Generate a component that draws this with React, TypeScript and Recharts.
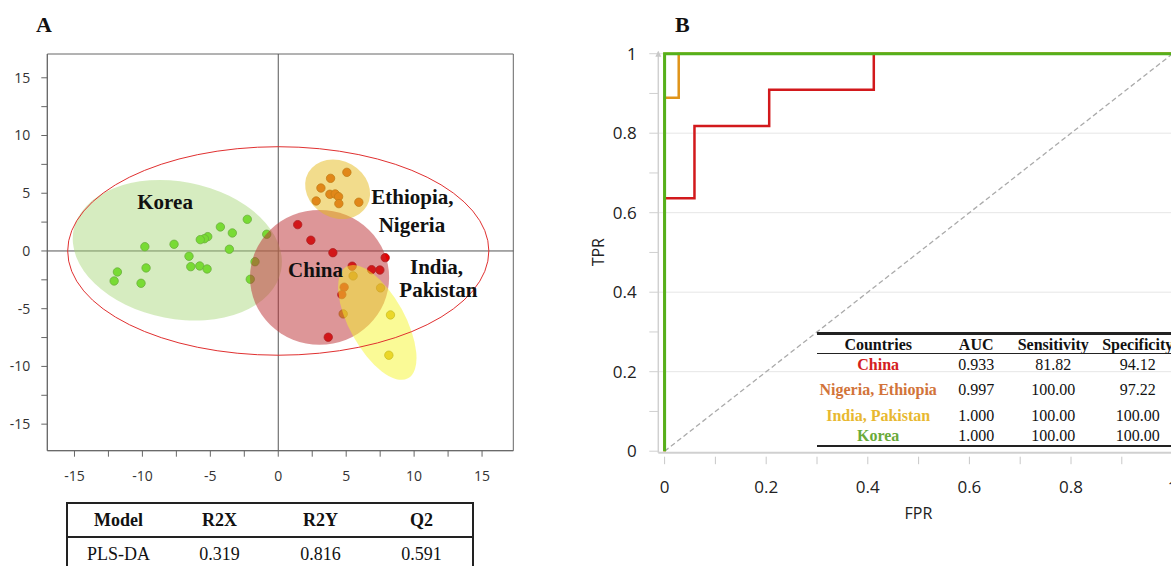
import React from 'react';
import {
  ScatterChart, Scatter, XAxis, YAxis, ReferenceArea, ReferenceLine, ReferenceDot,
  LineChart, Line,
} from 'recharts';

// ---------- Panel A: PLS-DA score plot ----------
const koreaX = [-2.28, -4.26, -3.38, -5.19, -5.44, -5.74, -7.67, -9.82, -3.6, -6.57, -9.73, -6.44, -5.78, -5.24, -11.84, -12.08, -10.1, -2.06, -1.71, -0.85];
const koreaY = [2.74, 2.08, 1.56, 1.24, 1.06, 0.98, 0.58, 0.37, 0.15, -0.46, -1.47, -1.36, -1.3, -1.56, -1.82, -2.6, -2.8, -2.45, -0.93, 1.45];
const ethiopiaX = [5.05, 3.85, 3.14, 3.8, 4.19, 4.44, 2.79, 4.46, 5.93];
const ethiopiaY = [6.81, 6.29, 5.45, 4.91, 4.94, 4.7, 4.33, 4.1, 4.22];
const chinaX = [1.43, 2.4, 4.02, 7.87, 5.44, 6.87, 7.48, 4.85, 4.68, 3.68];
const chinaY = [2.28, 0.93, -0.15, -0.58, -1.32, -1.62, -1.65, -3.14, -3.78, -7.47];
const indiaX = [5.51, 7.53, 4.78, 8.26, 8.14];
const indiaY = [-2.16, -3.2, -5.45, -5.54, -9.03];

// confidence ellipses: Korea, China, Ethiopia/Nigeria, India/Pakistan
const ellCx = [-7.43, 3.04, 4.37, 7.29];
const ellCy = [0.06, -2.29, 5.35, -6.19];
const ellRx = [7.78, 5.12, 2.48, 4.69];
const ellRy = [5.94, 5.84, 2.46, 2.41];
const ellAngle = [11, 0, 29.5, 61.2];
const ellFill = ['#a4d573', '#bb2d31', '#e5b919', '#f5f52d'];
const ellOpacity = [0.45, 0.5, 0.5, 0.5];

// Hotelling T2 ellipse
const hotRx = 15.5;
const hotRy = 9.03;

const axisTicksA = [-15, -12.5, -10, -7.5, -5, -2.5, 0, 2.5, 5, 7.5, 10, 12.5, 15];

const groupLabels = ['Korea', 'Ethiopia,', 'Nigeria', 'China', 'India,', 'Pakistan'];
const groupLabelX = [-8.33, 9.87, 9.84, 2.74, 11.65, 11.79];
const groupLabelY = [4.26, 4.72, 2.32, -1.58, -1.34, -3.31];

// ---------- Panel B: ROC ----------
const chinaFpr = [0, 0, 0.0588, 0.0588, 0.2059, 0.2059, 0.4118, 0.4118, 1];
const chinaTpr = [0, 0.6364, 0.6364, 0.8182, 0.8182, 0.9091, 0.9091, 1, 1];
const nigeriaFpr = [0, 0, 0.0278, 0.0278, 1];
const nigeriaTpr = [0, 0.8889, 0.8889, 1, 1];
const indiaFpr = [0, 0, 1];
const indiaTpr = [0, 1, 1];
const koreaFpr = [0, 0, 1];
const koreaTpr = [0, 1, 1];
const rocTicks = [0, 0.1, 0.2, 0.3, 0.4, 0.5, 0.6, 0.7, 0.8, 0.9, 1];
const gridValues = [0.2, 0.4, 0.6, 0.8, 1];

const tableCountries = ['China', 'Nigeria, Ethiopia', 'India, Pakistan', 'Korea'];
const tableColors = ['#d42020', '#d2743a', '#e8b830', '#6aaa3a'];
const tableAUC = ['0.933', '0.997', '1.000', '1.000'];
const tableSens = ['81.82', '100.00', '100.00', '100.00'];
const tableSpec = ['94.12', '97.22', '100.00', '100.00'];

const modelHeaders = ['Model', 'R2X', 'R2Y', 'Q2'];
const modelRow = ['PLS-DA', '0.319', '0.816', '0.591'];

const zip = (xs: number[], ys: number[]) => xs.map((x, i) => ({ x, y: ys[i] }));
const zipRoc = (xs: number[], ys: number[]) => xs.map((fpr, i) => ({ fpr, tpr: ys[i] }));

const dot = (fill: string, stroke: string) => (p: any) => (
  <circle cx={p.cx} cy={p.cy} r={4.2} fill={fill} stroke={stroke} strokeWidth={0.8} />
);

const ellipseShape = (angle: number, fill: string, opacity: number, stroke?: string) => (p: any) => {
  if (p.x == null || p.width == null) return <g />;
  const cx = p.x + p.width / 2;
  const cy = p.y + p.height / 2;
  return (
    <ellipse
      cx={cx}
      cy={cy}
      rx={Math.abs(p.width) / 2}
      ry={Math.abs(p.height) / 2}
      transform={`rotate(${angle} ${cx} ${cy})`}
      fill={fill}
      fillOpacity={opacity}
      stroke={stroke || 'none'}
      strokeWidth={stroke ? 1 : 0}
    />
  );
};

const SERIF = '"Liberation Serif", "Times New Roman", serif';
const SANS = '"Open Sans", "Noto Sans", sans-serif';

const fmtA = (v: number) => (v % 5 === 0 ? String(v) : '');
const isMajorRoc = (v: number) => Math.round(v * 10) % 2 === 0;
const fmtRoc = (v: number) => (isMajorRoc(v) ? String(Math.round(v * 10) / 10) : '');

const XTickB = (p: any) => {
  const v = p.payload.value;
  return (
    <g>
      <line x1={p.x} x2={p.x} y1={p.y + 4} y2={p.y + 11.5} stroke="#c8c8c8" strokeWidth={1} />
      {isMajorRoc(v) && (
        <text x={p.x} y={p.y + 40} textAnchor="middle" fontSize={17} fontFamily={SANS} fill="#222">
          {fmtRoc(v)}
        </text>
      )}
    </g>
  );
};

export default function App() {
  const korea = zip(koreaX, koreaY);
  const ethiopia = zip(ethiopiaX, ethiopiaY);
  const china = zip(chinaX, chinaY);
  const india = zip(indiaX, indiaY);

  const rowTops = [354, 376, 403, 428];
  const rowHeights = [22, 27, 25, 16.5];
  const colW = [123, 73, 81, 88];

  return (
    <div style={{ position: 'fixed', left: 0, top: 0, width: 1171, height: 566, overflow: 'hidden', background: '#fff' }}>
      {/* Panel letters */}
      <div style={{ position: 'absolute', left: 36, top: 13.3, fontFamily: SERIF, fontWeight: 'bold', fontSize: 22, lineHeight: '24px', color: '#111' }}>A</div>
      <div style={{ position: 'absolute', left: 675, top: 13.3, fontFamily: SERIF, fontWeight: 'bold', fontSize: 22, lineHeight: '24px', color: '#111' }}>B</div>

      {/* Panel A chart */}
      <div style={{ position: 'absolute', left: 0, top: 0 }}>
        <ScatterChart width={530} height={500} margin={{ top: 54, right: 16.7, bottom: 9.3, left: 7.3 }}>
          <XAxis
            type="number" dataKey="x" domain={[-17, 17.3]} ticks={axisTicksA} tickFormatter={fmtA}
            allowDataOverflow height={40} tickSize={6} tickMargin={14}
            stroke="#666" tick={{ fill: '#333', fontSize: 14, fontFamily: SANS }}
          />
          <YAxis
            type="number" dataKey="y" domain={[-17.3, 17.06]} ticks={axisTicksA} tickFormatter={fmtA}
            allowDataOverflow width={40} tickSize={6} tickMargin={11}
            stroke="#666" tick={{ fill: '#333', fontSize: 14, fontFamily: SANS }}
          />
          <ReferenceArea x1={-17} x2={17.3} y1={-17.3} y2={17.06} fill="none" stroke="#666" strokeWidth={1} fillOpacity={0} ifOverflow="visible" />
          <ReferenceLine x={0} stroke="#555" strokeWidth={1} />
          <ReferenceLine y={0} stroke="#555" strokeWidth={1} />
          <Scatter data={korea} shape={dot('#54e100', '#3c8f10')} isAnimationActive={false} />
          <Scatter data={china} shape={dot('#e80000', '#a01010')} isAnimationActive={false} />
          <Scatter data={ethiopia} shape={dot('#dd5519', '#a04010')} isAnimationActive={false} />
          <Scatter data={india} shape={dot('#e1b923', '#a08818')} isAnimationActive={false} />
          {ellCx.map((cx, i) => (
            <ReferenceArea
              key={'e' + i}
              x1={cx - ellRx[i]} x2={cx + ellRx[i]} y1={ellCy[i] - ellRy[i]} y2={ellCy[i] + ellRy[i]}
              shape={ellipseShape(ellAngle[i], ellFill[i], ellOpacity[i])}
              ifOverflow="visible"
              zIndex={700}
            />
          ))}
          <ReferenceArea
            x1={-hotRx} x2={hotRx} y1={-hotRy} y2={hotRy}
            shape={ellipseShape(0, 'none', 0, '#e03030')}
            ifOverflow="visible"
            zIndex={710}
          />
          {groupLabels.map((t, i) => (
            <ReferenceDot
              key={'l' + i}
              x={groupLabelX[i]} y={groupLabelY[i]} r={0} fill="none" stroke="none"
              ifOverflow="visible"
              zIndex={900}
              label={{ value: t, position: 'center', fontSize: 21, fontWeight: 'bold', fill: '#111', fontFamily: SERIF }}
            />
          ))}
        </ScatterChart>
      </div>

      {/* Panel A table */}
      <div style={{ position: 'absolute', left: 66, top: 501.5, width: 404, height: 90, border: '2px solid #222', fontFamily: SERIF, color: '#111' }}>
        <div style={{ position: 'absolute', left: 0, top: 0, width: 404, height: 32, display: 'flex' }}>
          {modelHeaders.map((h) => (
            <div key={h} style={{ width: 101, textAlign: 'center', fontWeight: 'bold', fontSize: 18, lineHeight: '32px' }}>{h}</div>
          ))}
        </div>
        <div style={{ position: 'absolute', left: 0, top: 32, width: 404, height: 2, background: '#222' }} />
        <div style={{ position: 'absolute', left: 0, top: 34, width: 404, height: 32, display: 'flex' }}>
          {modelRow.map((h, i) => (
            <div key={i} style={{ width: 101, textAlign: 'center', fontSize: 18, lineHeight: '32px' }}>{h}</div>
          ))}
        </div>
      </div>

      {/* Panel B chart */}
      <div style={{ position: 'absolute', left: 560, top: 0 }}>
        <LineChart width={620} height={566} margin={{ top: 51.7, right: 1.4, bottom: 53.3, left: 38.3 }}>
          <XAxis
            type="number" dataKey="fpr" domain={[0, 1]} ticks={rocTicks} padding={{ left: 6.3, right: 6 }}
            height={60} tickLine={false} tickSize={0} tickMargin={0}
            axisLine={{ stroke: '#d0d0d0', strokeWidth: 2 }} tick={XTickB}
            label={{
              content: (p: any) => {
                const vb = p.viewBox || {};
                return (
                  <text x={vb.x + vb.width / 2} y={vb.y + 66} textAnchor="middle" fontSize={16} fontFamily={SANS} fill="#222">FPR</text>
                );
              },
            }}
          />
          <YAxis
            type="number" domain={[0, 1]} ticks={rocTicks} padding={{ top: 2, bottom: 1.5 }}
            width={60} tickSize={9} tickMargin={12.6} tickFormatter={fmtRoc}
            axisLine={{ stroke: '#d0d0d0', strokeWidth: 1.5 }} tickLine={{ stroke: '#d0d0d0' }}
            tick={{ fill: '#222', fontSize: 17, fontFamily: SANS }}
            label={{
              content: (p: any) => {
                const vb = p.viewBox || {};
                const cx = vb.x;
                const cy = vb.y + vb.height / 2;
                const ax = vb.x + vb.width;
                const ay = vb.y;
                return (
                  <g>
                    <text x={cx} y={cy} transform={`rotate(-90 ${cx} ${cy})`} textAnchor="middle" dominantBaseline="central" fontSize={16} fontFamily={SANS} fill="#222">TPR</text>
                    <polygon points={`${ax - 3},${ay + 5} ${ax + 3},${ay + 5} ${ax},${ay - 1}`} fill="#c8c8c8" />
                  </g>
                );
              },
            }}
          />
          {gridValues.map((v) => (
            <ReferenceLine key={'g' + v} y={v} stroke="#e6e6e6" strokeWidth={1} />
          ))}
          <ReferenceLine segment={[{ x: 0, y: 0 }, { x: 1, y: 1 }]} stroke="#aaaaaa" strokeWidth={1.3} strokeDasharray="5 3" />
          <Line data={zipRoc(chinaFpr, chinaTpr)} dataKey="tpr" type="linear" stroke="#d2191c" strokeWidth={2.5} dot={false} isAnimationActive={false} />
          <Line data={zipRoc(nigeriaFpr, nigeriaTpr)} dataKey="tpr" type="linear" stroke="#e0941a" strokeWidth={2.5} dot={false} isAnimationActive={false} />
          <Line data={zipRoc(indiaFpr, indiaTpr)} dataKey="tpr" type="linear" stroke="#e8c030" strokeWidth={2.5} dot={false} isAnimationActive={false} />
          <Line data={zipRoc(koreaFpr, koreaTpr)} dataKey="tpr" type="linear" stroke="#55b01c" strokeWidth={3} dot={false} isAnimationActive={false} />
        </LineChart>
      </div>

      {/* Panel B table */}
      <div style={{ position: 'absolute', left: 816.7, top: 0, width: 365, height: 566, fontFamily: SERIF, color: '#111', pointerEvents: 'none' }}>
        <div style={{ position: 'absolute', left: 0, top: 332, width: 365, height: 2.5, background: '#222' }} />
        <div style={{ position: 'absolute', left: 0, top: 334.5, height: 18, display: 'flex' }}>
          {['Countries', 'AUC', 'Sensitivity', 'Specificity'].map((h, i) => (
            <div key={h} style={{ width: colW[i], textAlign: 'center', fontWeight: 'bold', fontSize: 16, lineHeight: '20px', whiteSpace: 'nowrap' }}>{h}</div>
          ))}
        </div>
        <div style={{ position: 'absolute', left: 0, top: 352.5, width: 365, height: 1.5, background: '#222' }} />
        {tableCountries.map((c, r) => (
          <div key={c} style={{ position: 'absolute', left: 0, top: rowTops[r], height: rowHeights[r], display: 'flex' }}>
            <div style={{ width: colW[0], textAlign: 'center', fontWeight: 'bold', fontSize: 16, lineHeight: rowHeights[r] + 'px', color: tableColors[r], whiteSpace: 'nowrap' }}>{c}</div>
            <div style={{ width: colW[1], textAlign: 'center', fontSize: 16, lineHeight: rowHeights[r] + 'px' }}>{tableAUC[r]}</div>
            <div style={{ width: colW[2], textAlign: 'center', fontSize: 16, lineHeight: rowHeights[r] + 'px' }}>{tableSens[r]}</div>
            <div style={{ width: colW[3], textAlign: 'center', fontSize: 16, lineHeight: rowHeights[r] + 'px' }}>{tableSpec[r]}</div>
          </div>
        ))}
        <div style={{ position: 'absolute', left: 0, top: 444.5, width: 365, height: 2.5, background: '#222' }} />
      </div>
    </div>
  );
}
